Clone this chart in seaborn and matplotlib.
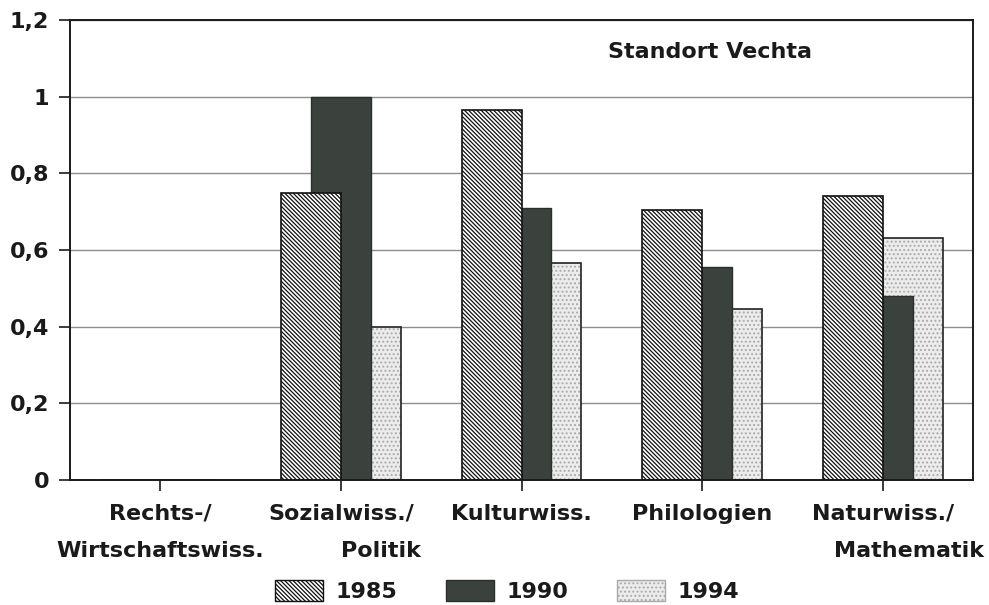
import numpy as np
import pandas as pd
import matplotlib
matplotlib.use("Agg")
import matplotlib.pyplot as plt
import matplotlib.patches as mpatches
import seaborn as sns

# Subject groups (first and second label line)
categories = ["Rechts-/", "Sozialwiss./", "Kulturwiss.", "Philologien", "Naturwiss./"]
second_lines = ["Wirtschaftswiss.", "Politik", "", "", "Mathematik"]
years = ["1985", "1990", "1994"]
v1985 = [0.0, 0.75, 0.965, 0.705, 0.74]
v1990 = [0.0, 1.0, 0.71, 0.555, 0.48]
v1994 = [0.0, 0.40, 0.565, 0.445, 0.63]
yticks = [0, 0.2, 0.4, 0.6, 0.8, 1.0, 1.2]
ytick_labels = ["0", "0,2", "0,4", "0,6", "0,8", "1", "1,2"]
title = "Standort Vechta"

sns.set_theme(style="white")
plt.rcParams["font.family"] = ["DejaVu Sans"]
plt.rcParams["font.weight"] = "bold"
plt.rcParams["hatch.linewidth"] = 0.9

fig = plt.figure(figsize=(9.89, 6.05), dpi=100)
ax = fig.add_axes([70 / 989, 1 - 480 / 605, 903 / 989, 460 / 605])

# Overlapping bars: each year shifted by half a bar width
bar_w = 0.332
shift = {"1985": -0.166, "1990": 0.0, "1994": 0.166}
idx = np.arange(len(categories))
values = {"1985": v1985, "1990": v1990, "1994": v1994}
frames = {y: pd.DataFrame({"pos": idx + shift[y], "value": values[y]}) for y in years}

light_face, light_hatch = "#ececec", "#a9a9a9"
dark = "#3b423d"
diag = "\\" * 8

# 1994 at the back: dotted fill, then black outline
sns.barplot(data=frames["1994"], x="pos", y="value", native_scale=True, width=bar_w,
            color=light_face, saturation=1, edgecolor=light_hatch, linewidth=0,
            hatch="....", errorbar=None, ax=ax)
sns.barplot(data=frames["1994"], x="pos", y="value", native_scale=True, width=bar_w,
            color="#222222", fill=False, linewidth=1.2, errorbar=None, ax=ax)
# 1990 in the middle
sns.barplot(data=frames["1990"], x="pos", y="value", native_scale=True, width=bar_w,
            color=dark, saturation=1, edgecolor="#2a2f2b", linewidth=1.0,
            errorbar=None, ax=ax)
# 1985 in front, diagonal hatching
sns.barplot(data=frames["1985"], x="pos", y="value", native_scale=True, width=bar_w,
            color="white", saturation=1, edgecolor="#111111", linewidth=1.2,
            hatch=diag, errorbar=None, ax=ax)

ax.set_xlim(-0.5, len(categories) - 0.5)
ax.set_ylim(0, 1.2)
ax.set_xlabel("")
ax.set_ylabel("")
ax.set_axisbelow(True)
ax.yaxis.grid(True, color="#8c8c8c", linewidth=1.0)
ax.xaxis.grid(False)

for s in ax.spines.values():
    s.set_visible(True)
    s.set_color("#1a1a1a")
    s.set_linewidth(1.4)

ax.set_yticks(yticks)
ax.set_yticklabels(ytick_labels)
ax.set_xticks(idx)
ax.set_xticklabels(categories)
ax.tick_params(axis="y", left=True, direction="out", length=8, width=1.2,
               pad=7, labelsize=16, colors="#1a1a1a")
ax.tick_params(axis="x", bottom=True, direction="out", length=8, width=1.2,
               pad=9, labelsize=16, colors="#1a1a1a")

# second line of the group labels
second_dx = [0, 29, 0, 0, 19]
for i, (txt, dx) in enumerate(zip(second_lines, second_dx)):
    if txt:
        ax.annotate(txt, xy=(i, 0), xycoords=ax.get_xaxis_transform(),
                    xytext=(dx, -44), textcoords="offset points",
                    ha="center", va="top", fontsize=16, color="#1a1a1a",
                    annotation_clip=False)

ax.text(0.709, 0.93, title, transform=ax.transAxes, ha="center", va="center",
        fontsize=16, color="#1a1a1a")

handles = [
    mpatches.Patch(facecolor="white", edgecolor="#111111", hatch=diag, linewidth=1.0),
    mpatches.Patch(facecolor=dark, edgecolor="#2a2f2b", linewidth=1.0),
    mpatches.Patch(facecolor=light_face, edgecolor=light_hatch, hatch="....", linewidth=1.0),
]
fig.legend(handles, years, loc="center", bbox_to_anchor=(507 / 989, 1 - 591 / 605),
           ncol=3, frameon=False, fontsize=16, handlelength=2.16, handleheight=1.1,
           handletextpad=0.55, columnspacing=2.2, borderpad=0, labelcolor="#1a1a1a")

fig.savefig("out.png", dpi=100)
